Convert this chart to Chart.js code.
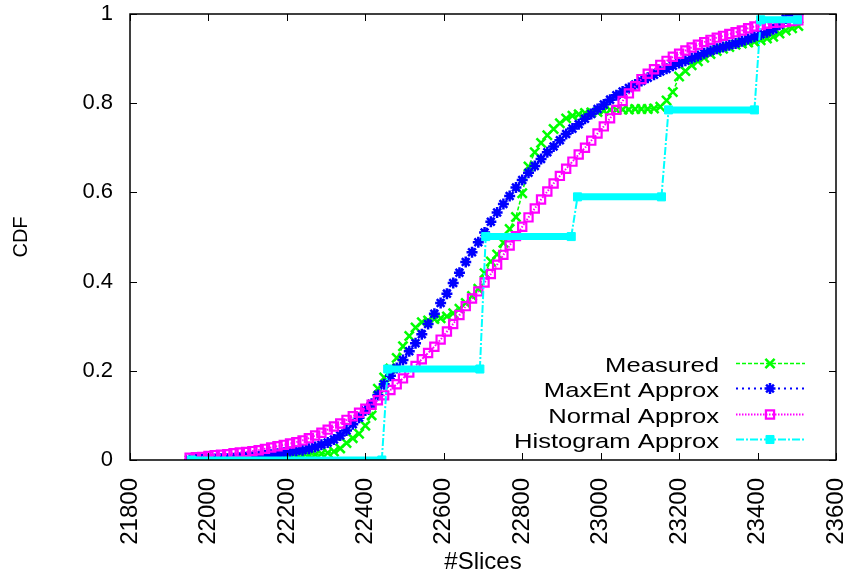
<html lang="en">
<head>
    <meta charset="utf-8"/>
    <title>Slices CDF</title>
    <script src="https://cdn.jsdelivr.net/npm/chart.js"></script>
    <style>
        body { margin: 0; background: #fff; }
        canvas { display: block; }
    </style>
</head>
<body>
<canvas id="cdfChart" width="849" height="577"></canvas>

<script>
    // sample points along the x axis (#Slices)
    const slices = [
        21952, 21968, 21984, 22000, 22016, 22032, 22048, 22064, 22080, 22096,
        22112, 22128, 22144, 22160, 22176, 22192, 22208, 22224, 22240, 22256,
        22272, 22288, 22304, 22320, 22336, 22352, 22368, 22384, 22400, 22416,
        22432, 22448, 22464, 22480, 22496, 22512, 22528, 22544, 22560, 22576,
        22592, 22608, 22624, 22640, 22656, 22672, 22688, 22704, 22720, 22736,
        22752, 22768, 22784, 22800, 22816, 22832, 22848, 22864, 22880, 22896,
        22912, 22928, 22944, 22960, 22976, 22992, 23008, 23024, 23040, 23056,
        23072, 23088, 23104, 23120, 23136, 23152, 23168, 23184, 23200, 23216,
        23232, 23248, 23264, 23280, 23296, 23312, 23328, 23344, 23360, 23376,
        23392, 23408, 23424, 23440, 23456, 23472, 23488, 23504
    ];

    const measured = [
        0, 0, 0, 0, 0, 0, 0, 0, 0, 0,
        0.001, 0.001, 0.001, 0.002, 0.002, 0.003, 0.004, 0.006, 0.009, 0.011,
        0.012, 0.014, 0.016, 0.019, 0.026, 0.038, 0.049, 0.059, 0.077, 0.100,
        0.160, 0.185, 0.205, 0.229, 0.255, 0.278, 0.297, 0.309, 0.313, 0.316,
        0.318, 0.322, 0.329, 0.339, 0.352, 0.368, 0.384, 0.419, 0.445, 0.461,
        0.487, 0.518, 0.545, 0.598, 0.658, 0.690, 0.711, 0.728, 0.742, 0.755,
        0.766, 0.772, 0.775, 0.778, 0.779, 0.780, 0.783, 0.785, 0.785, 0.786,
        0.786, 0.787, 0.787, 0.787, 0.788, 0.792, 0.806, 0.825, 0.860, 0.872,
        0.885, 0.894, 0.902, 0.910, 0.917, 0.922, 0.926, 0.931, 0.934, 0.936,
        0.938, 0.941, 0.945, 0.949, 0.956, 0.963, 0.968, 0.973
    ];

    const maxEnt = [
        0.000, 0.001, 0.001, 0.002, 0.002, 0.003, 0.003, 0.004, 0.005, 0.006,
        0.007, 0.008, 0.010, 0.012, 0.014, 0.016, 0.018, 0.020, 0.022, 0.025,
        0.029, 0.034, 0.039, 0.046, 0.055, 0.066, 0.080, 0.095, 0.111, 0.126,
        0.146, 0.170, 0.189, 0.206, 0.224, 0.244, 0.262, 0.282, 0.305, 0.328,
        0.352, 0.373, 0.397, 0.420, 0.444, 0.466, 0.488, 0.510, 0.534, 0.555,
        0.574, 0.592, 0.611, 0.628, 0.644, 0.659, 0.675, 0.690, 0.703, 0.717,
        0.731, 0.743, 0.753, 0.765, 0.776, 0.787, 0.797, 0.808, 0.818, 0.826,
        0.834, 0.842, 0.850, 0.857, 0.864, 0.871, 0.877, 0.884, 0.890, 0.895,
        0.901, 0.906, 0.912, 0.917, 0.922, 0.926, 0.930, 0.934, 0.939, 0.944,
        0.949, 0.954, 0.959, 0.966, 0.976, 0.990, 0.998, 1.000
    ];

    const normalApprox = [
        0.005, 0.006, 0.007, 0.009, 0.011, 0.012, 0.013, 0.015, 0.017, 0.018,
        0.020, 0.022, 0.025, 0.028, 0.031, 0.034, 0.037, 0.040, 0.044, 0.049,
        0.055, 0.061, 0.068, 0.075, 0.082, 0.090, 0.098, 0.106, 0.115, 0.124,
        0.134, 0.145, 0.157, 0.170, 0.183, 0.196, 0.211, 0.226, 0.240, 0.254,
        0.270, 0.288, 0.305, 0.325, 0.345, 0.362, 0.378, 0.398, 0.417, 0.438,
        0.460, 0.481, 0.502, 0.523, 0.544, 0.564, 0.584, 0.602, 0.620, 0.637,
        0.653, 0.669, 0.685, 0.700, 0.716, 0.732, 0.748, 0.766, 0.785, 0.805,
        0.822, 0.838, 0.854, 0.866, 0.876, 0.886, 0.895, 0.904, 0.911, 0.918,
        0.925, 0.931, 0.937, 0.942, 0.947, 0.951, 0.955, 0.959, 0.963, 0.968,
        0.972, 0.975, 0.978, 0.980, 0.981, 0.982, 0.984, 0.986
    ];

    // histogram approximation: start/end of each bin step
    const histSlices = [21957, 22442, 22457, 22692, 22707, 22925, 22941, 23155, 23173, 23392, 23408, 23502];
    const histCdf = [0, 0, 0.204, 0.204, 0.501, 0.501, 0.590, 0.590, 0.785, 0.785, 0.987, 0.987];

    const seriesLabels = ['Measured', 'MaxEnt Approx', 'Normal Approx', 'Histogram Approx'];

    const font = '"Liberation Sans", Arial, sans-serif';
    Chart.defaults.font.family = font;
    Chart.defaults.color = '#000';

    const toPoints = (xs, ys) => xs.map((x, i) => ({x: x, y: ys[i]}));
    const flat = c => c.p0.parsed.y === c.p1.parsed.y;

    // box around the plot with inward ticks on all four sides
    const frame = {
        id: 'frame',
        afterDatasetsDraw(chart) {
            const {ctx, chartArea: a, scales: {x, y}} = chart;
            ctx.save();
            ctx.strokeStyle = '#000';
            ctx.lineWidth = 1;
            ctx.beginPath();
            x.ticks.forEach(t => {
                const px = Math.round(x.getPixelForValue(t.value)) + 0.5;
                ctx.moveTo(px, a.bottom); ctx.lineTo(px, a.bottom - 7);
                ctx.moveTo(px, a.top); ctx.lineTo(px, a.top + 7);
            });
            y.ticks.forEach(t => {
                const py = Math.round(y.getPixelForValue(t.value)) + 0.5;
                ctx.moveTo(a.left, py); ctx.lineTo(a.left + 7, py);
                ctx.moveTo(a.right, py); ctx.lineTo(a.right - 7, py);
            });
            ctx.stroke();
            ctx.lineWidth = 1.5;
            ctx.strokeRect(a.left, a.top, a.right - a.left, a.bottom - a.top);
            ctx.restore();
        }
    };

    // key in the lower right: label, then a line sample with its marker
    const legendKey = {
        id: 'legendKey',
        afterDraw(chart) {
            const {ctx, chartArea: a} = chart;
            ctx.save();
            chart.data.datasets.forEach((ds, i) => {
                const yy = Math.round(a.bottom - 97 + i * 25.4) + 0.5;
                ctx.save();
                ctx.fillStyle = '#000';
                ctx.font = '21px ' + font;
                ctx.textAlign = 'right';
                ctx.textBaseline = 'alphabetic';
                ctx.translate(a.right - 117, yy + 8);
                ctx.scale(1.22, 1);
                ctx.fillText(ds.label, 0, 0);
                ctx.restore();

                ctx.strokeStyle = ds.borderColor;
                ctx.lineWidth = ds.borderWidth;
                ctx.setLineDash(ds.borderDash);
                ctx.beginPath();
                ctx.moveTo(a.right - 100, yy);
                ctx.lineTo(a.right - 31, yy);
                ctx.stroke();
                ctx.setLineDash([]);

                ctx.fillStyle = ds.pointBackgroundColor;
                ctx.strokeStyle = ds.pointBorderColor;
                ctx.lineWidth = ds.pointBorderWidth;
                Chart.helpers.drawPoint(ctx, {
                    pointStyle: ds.pointStyle,
                    radius: ds.pointRadius,
                    borderWidth: ds.pointBorderWidth,
                    rotation: 0
                }, a.right - 66, yy);
            });
            ctx.restore();
        }
    };

    new Chart(document.getElementById('cdfChart'), {
        type: 'line',
        data: {
            datasets: [{
                label: seriesLabels[0],
                data: toPoints(slices, measured),
                order: 4,
                borderColor: '#00ff00',
                borderWidth: 1.5,
                borderDash: [4, 2],
                pointStyle: 'crossRot',
                pointRadius: 6.5,
                pointBorderWidth: 2.5,
                pointBorderColor: '#00ff00',
                pointBackgroundColor: '#00ff00'
            }, {
                label: seriesLabels[1],
                data: toPoints(slices, maxEnt),
                order: 3,
                borderColor: '#0000ff',
                borderWidth: 2,
                borderDash: [2, 4],
                pointStyle: 'star',
                pointRadius: 5.5,
                pointBorderWidth: 2.5,
                pointBorderColor: '#0000ff',
                pointBackgroundColor: '#0000ff'
            }, {
                label: seriesLabels[2],
                data: toPoints(slices, normalApprox),
                order: 2,
                borderColor: '#ff00ff',
                borderWidth: 2,
                borderDash: [1.5, 1.5],
                pointStyle: 'rect',
                pointRadius: 5.8,
                pointBorderWidth: 2.2,
                pointBorderColor: '#ff00ff',
                pointBackgroundColor: 'rgba(255,255,255,0)'
            }, {
                label: seriesLabels[3],
                data: toPoints(histSlices, histCdf),
                order: 1,
                borderColor: '#00ffff',
                borderWidth: 2,
                borderDash: [8, 2, 2, 2],
                pointStyle: 'rect',
                pointRadius: 5.7,
                pointBorderWidth: 1,
                pointBorderColor: '#00ffff',
                pointBackgroundColor: '#00ffff',
                segment: {
                    borderWidth: c => flat(c) ? 7 : 2,
                    borderDash: c => flat(c) ? [] : [8, 2, 2, 2]
                }
            }]
        },
        options: {
            responsive: false,
            animation: false,
            layout: { padding: { left: 0, top: 14, right: 13, bottom: 0 } },
            plugins: {
                legend: { display: false },
                tooltip: { enabled: false }
            },
            elements: { line: { tension: 0, fill: false } },
            scales: {
                x: {
                    type: 'linear',
                    min: 21800,
                    max: 23600,
                    grid: { display: false, drawTicks: false },
                    border: { display: false },
                    ticks: {
                        stepSize: 200,
                        autoSkip: false,
                        minRotation: 90,
                        maxRotation: 90,
                        padding: 18,
                        font: { size: 24, lineHeight: 1 },
                        callback: v => String(v)
                    },
                    title: {
                        display: true,
                        text: '#Slices',
                        font: { size: 24, lineHeight: 1.2 },
                        padding: 0
                    },
                    afterFit: s => {
                        s.height = 117;
                        s.paddingLeft = 0;
                        s.paddingRight = 0;
                    }
                },
                y: {
                    min: 0,
                    max: 1,
                    grid: { display: false, drawTicks: false },
                    border: { display: false },
                    ticks: {
                        stepSize: 0.2,
                        padding: 17,
                        font: { size: 22 },
                        callback: v => String(Math.round(v * 10) / 10)
                    },
                    title: {
                        display: true,
                        text: 'CDF',
                        font: { size: 20, lineHeight: 1.2 },
                        padding: { top: 9, bottom: 0 }
                    },
                    afterFit: s => {
                        s.width = 130;
                        s.paddingTop = 0;
                        s.paddingBottom = 0;
                    }
                }
            }
        },
        plugins: [frame, legendKey]
    });
</script>
</body>
</html>
